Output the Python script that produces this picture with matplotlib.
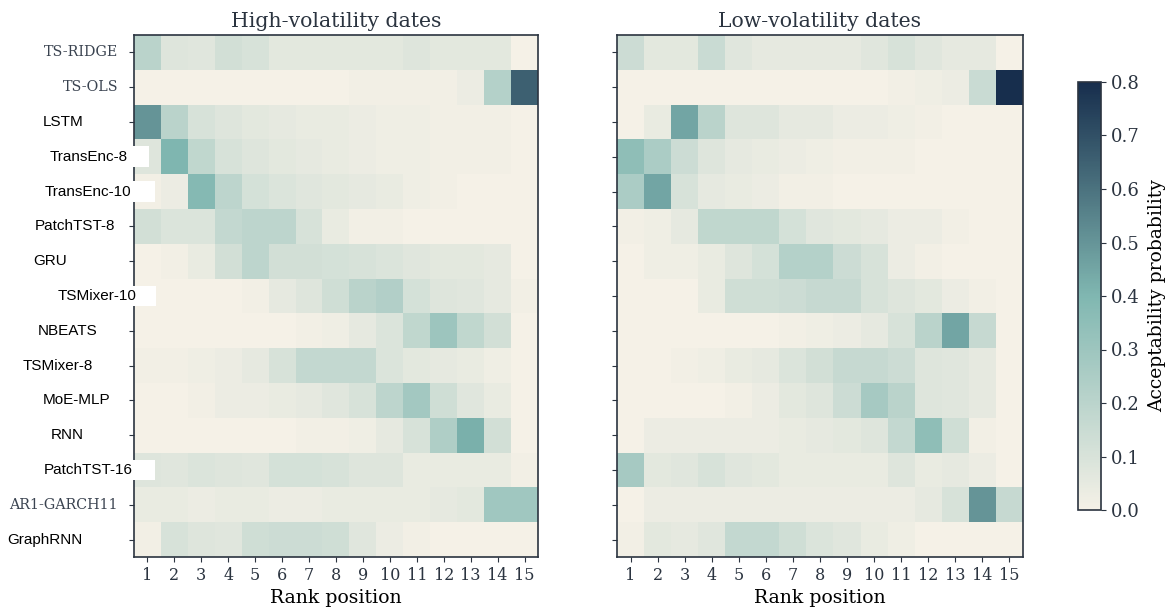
import numpy as np
import matplotlib
matplotlib.use("Agg")
import matplotlib.pyplot as plt
from matplotlib.colors import LinearSegmentedColormap
from matplotlib.patches import Rectangle
from matplotlib import transforms

models = ["TS-RIDGE", "TS-OLS", "LSTM", "TransEnc-8", "TransEnc-10", "PatchTST-8",
          "GRU", "TSMixer-10", "NBEATS", "TSMixer-8", "MoE-MLP", "RNN",
          "PatchTST-16", "AR1-GARCH11", "GraphRNN"]
ranks = list(range(1, 16))

# acceptability probability per model (rows) and rank position (cols)
high_vol = [
    [0.20, 0.08, 0.07, 0.12, 0.10, 0.06, 0.06, 0.06, 0.06, 0.06, 0.08, 0.06, 0.06, 0.06, 0.00],
    [0.00, 0.00, 0.00, 0.00, 0.00, 0.00, 0.00, 0.00, 0.01, 0.01, 0.01, 0.01, 0.03, 0.22, 0.65],
    [0.50, 0.20, 0.10, 0.08, 0.06, 0.05, 0.04, 0.04, 0.03, 0.02, 0.02, 0.01, 0.01, 0.01, 0.00],
    [0.08, 0.40, 0.18, 0.10, 0.08, 0.06, 0.05, 0.04, 0.03, 0.02, 0.02, 0.01, 0.01, 0.01, 0.00],
    [0.01, 0.03, 0.38, 0.19, 0.11, 0.09, 0.07, 0.06, 0.05, 0.04, 0.02, 0.01, 0.00, 0.00, 0.00],
    [0.12, 0.09, 0.09, 0.17, 0.19, 0.19, 0.10, 0.04, 0.01, 0.01, 0.00, 0.00, 0.00, 0.00, 0.00],
    [0.00, 0.01, 0.04, 0.12, 0.19, 0.12, 0.12, 0.11, 0.10, 0.09, 0.07, 0.06, 0.06, 0.05, 0.00],
    [0.00, 0.00, 0.00, 0.00, 0.01, 0.05, 0.08, 0.13, 0.20, 0.23, 0.11, 0.08, 0.07, 0.05, 0.01],
    [0.00, 0.00, 0.00, 0.00, 0.00, 0.00, 0.01, 0.02, 0.05, 0.09, 0.18, 0.30, 0.18, 0.12, 0.00],
    [0.01, 0.01, 0.02, 0.03, 0.05, 0.10, 0.17, 0.17, 0.17, 0.09, 0.06, 0.05, 0.04, 0.02, 0.00],
    [0.00, 0.00, 0.01, 0.03, 0.03, 0.04, 0.05, 0.07, 0.10, 0.19, 0.28, 0.13, 0.07, 0.04, 0.00],
    [0.00, 0.00, 0.00, 0.00, 0.00, 0.00, 0.01, 0.01, 0.02, 0.05, 0.10, 0.24, 0.42, 0.12, 0.00],
    [0.08, 0.07, 0.09, 0.08, 0.07, 0.11, 0.11, 0.10, 0.08, 0.08, 0.04, 0.04, 0.04, 0.04, 0.01],
    [0.04, 0.04, 0.03, 0.04, 0.04, 0.03, 0.03, 0.04, 0.04, 0.04, 0.04, 0.05, 0.06, 0.29, 0.29],
    [0.01, 0.10, 0.08, 0.07, 0.13, 0.14, 0.14, 0.13, 0.07, 0.03, 0.01, 0.00, 0.00, 0.00, 0.00],
]

low_vol = [
    [0.14, 0.06, 0.06, 0.15, 0.07, 0.05, 0.05, 0.05, 0.05, 0.07, 0.10, 0.07, 0.05, 0.05, 0.00],
    [0.00, 0.00, 0.00, 0.00, 0.00, 0.00, 0.00, 0.00, 0.00, 0.00, 0.01, 0.02, 0.03, 0.15, 0.80],
    [0.00, 0.04, 0.45, 0.20, 0.08, 0.08, 0.05, 0.05, 0.03, 0.03, 0.02, 0.01, 0.00, 0.00, 0.00],
    [0.35, 0.25, 0.14, 0.08, 0.05, 0.04, 0.03, 0.02, 0.01, 0.01, 0.01, 0.00, 0.00, 0.00, 0.00],
    [0.25, 0.45, 0.10, 0.05, 0.04, 0.03, 0.01, 0.01, 0.00, 0.00, 0.00, 0.00, 0.00, 0.00, 0.00],
    [0.01, 0.02, 0.05, 0.18, 0.18, 0.18, 0.11, 0.07, 0.06, 0.05, 0.03, 0.03, 0.01, 0.00, 0.00],
    [0.00, 0.02, 0.02, 0.04, 0.08, 0.11, 0.22, 0.22, 0.14, 0.10, 0.03, 0.01, 0.00, 0.00, 0.00],
    [0.00, 0.00, 0.00, 0.04, 0.13, 0.13, 0.14, 0.16, 0.16, 0.10, 0.08, 0.06, 0.03, 0.01, 0.00],
    [0.00, 0.00, 0.00, 0.00, 0.00, 0.00, 0.01, 0.02, 0.03, 0.05, 0.10, 0.20, 0.45, 0.16, 0.00],
    [0.00, 0.00, 0.01, 0.02, 0.04, 0.05, 0.09, 0.12, 0.16, 0.16, 0.14, 0.08, 0.07, 0.05, 0.00],
    [0.00, 0.00, 0.00, 0.00, 0.01, 0.03, 0.06, 0.08, 0.14, 0.27, 0.20, 0.08, 0.07, 0.05, 0.00],
    [0.00, 0.03, 0.03, 0.03, 0.03, 0.03, 0.04, 0.05, 0.06, 0.08, 0.17, 0.35, 0.13, 0.01, 0.00],
    [0.27, 0.06, 0.07, 0.10, 0.07, 0.06, 0.04, 0.04, 0.04, 0.04, 0.08, 0.04, 0.05, 0.03, 0.00],
    [0.00, 0.03, 0.03, 0.03, 0.03, 0.03, 0.03, 0.03, 0.03, 0.03, 0.03, 0.05, 0.10, 0.50, 0.16],
    [0.01, 0.06, 0.05, 0.07, 0.17, 0.17, 0.13, 0.09, 0.07, 0.04, 0.02, 0.00, 0.00, 0.00, 0.00],
]

# styling per row label: (font kind, left edge in px or None for right-aligned, white box)
label_style = {
    "TS-RIDGE": ("serif", None, False),
    "TS-OLS": ("serif", None, False),
    "LSTM": ("sans", 43, False),
    "TransEnc-8": ("sans", 50, True),
    "TransEnc-10": ("sans", 45, True),
    "PatchTST-8": ("sans", 35, False),
    "GRU": ("sans", 33, False),
    "TSMixer-10": ("sans", 58, True),
    "NBEATS": ("sans", 38, False),
    "TSMixer-8": ("sans", 23, False),
    "MoE-MLP": ("sans", 43, False),
    "RNN": ("sans", 51, False),
    "PatchTST-16": ("sans", 44, True),
    "AR1-GARCH11": ("serif", None, False),
    "GraphRNN": ("sans", 7, False),
}
box_right = {"TransEnc-8": 149, "TransEnc-10": 155, "TSMixer-10": 156, "PatchTST-16": 155}

ink = "#2b3440"
plt.rcParams["font.family"] = "DejaVu Serif"
plt.rcParams["text.color"] = ink
plt.rcParams["axes.edgecolor"] = ink
plt.rcParams["xtick.color"] = ink
plt.rcParams["ytick.color"] = ink

cmap = LinearSegmentedColormap.from_list(
    "accept", [(0.0, "#f5f1e7"), (0.5, "#80b7b1"), (1.0, "#172e4d")])

W, H = 1175, 612
fig = plt.figure(figsize=(W / 100, H / 100), dpi=100)
ax1 = fig.add_axes([134 / W, 1 - 557 / H, 404 / W, 522 / H])
ax2 = fig.add_axes([617 / W, 1 - 557 / H, 406 / W, 522 / H])
cax = fig.add_axes([1078 / W, 1 - 510 / H, 23 / W, 428 / H])

for ax, data, title in [(ax1, high_vol, "High-volatility dates"),
                        (ax2, low_vol, "Low-volatility dates")]:
    im = ax.imshow(np.array(data), cmap=cmap, vmin=0, vmax=0.8, aspect="auto")
    ax.set_xticks(range(len(ranks)))
    ax.set_xticklabels([str(r) for r in ranks], fontsize=11.5)
    ax.set_yticks(range(len(models)))
    ax.set_yticklabels([])
    ax.tick_params(axis="x", pad=4)
    ax.set_xlabel("Rank position", fontsize=13.6, labelpad=3)
    ax.set_title(title, fontsize=14.7, pad=6)
    for s in ax.spines.values():
        s.set_linewidth(1.2)

# row labels on the left panel
trans = transforms.blended_transform_factory(fig.transFigure, ax1.transData)
for i, name in enumerate(models):
    kind, left, boxed = label_style[name]
    if boxed:
        fig.add_artist(Rectangle(((left - 4) / W, i - 0.3), (box_right[name] - left + 4) / W, 0.6,
                                 transform=trans, facecolor="white", edgecolor="none", zorder=3))
    if kind == "serif":
        fig.text(118 / W, i, name, transform=trans, ha="right", va="center",
                 fontsize=10.3, family="DejaVu Serif", color="#3a4350", zorder=4)
    else:
        fig.text(left / W, i, name, transform=trans, ha="left", va="center",
                 fontsize=11, family="Liberation Sans", color="black", zorder=4)

cb = fig.colorbar(im, cax=cax)
cb.set_ticks(np.arange(0, 0.81, 0.1))
cb.ax.tick_params(labelsize=13)
cb.set_label("Acceptability probability", fontsize=13.5, labelpad=6)
cb.outline.set_linewidth(1.2)

fig.savefig("out.png", dpi=100)
